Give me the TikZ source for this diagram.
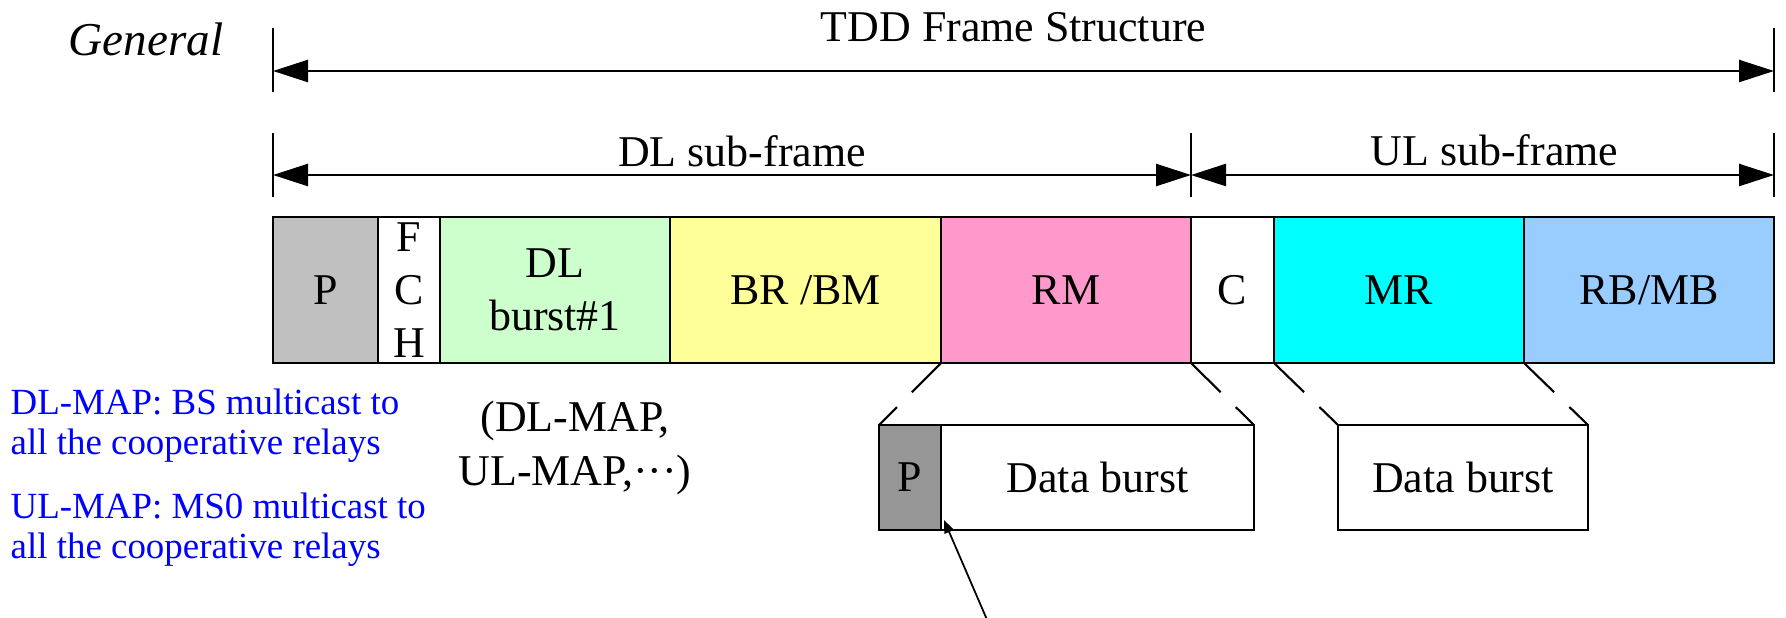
\documentclass[tikz,border=0pt]{standalone}
\usepackage{fontspec}
\setmainfont{Liberation Serif}
\usepackage{xcolor}
\usepackage{tikz}
\usetikzlibrary{arrows.meta,positioning,calc}
\definecolor{prmgray}{HTML}{C0C0C0}
\definecolor{dlgreen}{HTML}{CCFFCC}
\definecolor{bryellow}{HTML}{FFFF99}
\definecolor{rmpink}{HTML}{FF99CC}
\definecolor{mrcyan}{HTML}{00FFFF}
\definecolor{rbblue}{HTML}{99CCFF}
\definecolor{pdark}{HTML}{969696}
\newcommand{\lblfont}{\fontsize{12.5}{15}\selectfont}
\newcommand{\notefont}{\fontsize{10.5}{11.5}\selectfont}

\begin{document}
\begin{tikzpicture}[
  cell/.style={draw, line width=0.8pt, minimum height=1.46cm, inner sep=0pt,
    outer sep=0pt, align=center, font=\lblfont},
  zcell/.style={cell, minimum height=1.05cm},
  dim/.style={{Triangle[length=3.5mm,width=2.2mm]}-{Triangle[length=3.5mm,width=2.2mm]},
    line width=0.7pt},
  tick/.style={line width=0.5pt},
  zoomln/.style={line width=0.6pt},
  lbl/.style={font=\lblfont, inner sep=0pt},
  note/.style={font=\notefont, text=blue, align=left, inner sep=0pt},
]
  \useasboundingbox (0,0) rectangle (17.86,-6.17);

  % dimension lines
  \foreach \x in {2.73,17.74} \draw[tick] (\x,-0.28) -- (\x,-0.92);
  \foreach \x in {2.73,11.91,17.74} \draw[tick] (\x,-1.33) -- (\x,-1.97);
  \coordinate (fl) at (2.73,-0.71);
  \coordinate (fr) at (17.74,-0.71);
  \coordinate (dl) at (2.73,-1.75);
  \coordinate (dm) at (11.91,-1.75);
  \coordinate (ur) at (17.74,-1.75);

  \draw[dim] (fl) -- (fr)
    node[midway, above=0.28cm, xshift=-0.1cm, lbl] {TDD Frame Structure};
  \draw[dim] (dl) -- (dm)
    node[midway, above=0.07cm, xshift=0.1cm, lbl] {DL sub-frame};
  \draw[dim] (dm) -- (ur)
    node[midway, above=0.08cm, xshift=0.12cm, lbl] {UL sub-frame};

  \node[font=\fontsize{13.4}{16}\selectfont\itshape, anchor=base, inner sep=0pt]
    (gen) at (1.46,-0.55) {General};

  % frame cells
  \node[cell, fill=prmgray, minimum width=1.05cm, anchor=north west] (pre)
    at (2.73,-2.17) {P};
  \node[cell, minimum width=0.62cm, right=0pt of pre] (fch) {F\\C\\H};
  \node[cell, fill=dlgreen, minimum width=2.30cm, right=0pt of fch] (dlb)
    {DL\\burst\#1};
  \node[cell, fill=bryellow, minimum width=2.71cm, right=0pt of dlb] (brbm)
    {BR /BM};
  \node[cell, fill=rmpink, minimum width=2.50cm, right=0pt of brbm] (rm) {RM};
  \node[cell, minimum width=0.83cm, right=0pt of rm] (cb) {C};
  \node[cell, fill=mrcyan, minimum width=2.50cm, right=0pt of cb] (mr) {MR};
  \node[cell, fill=rbblue, minimum width=2.50cm, right=0pt of mr] (rbmb) {RB/MB};

  % zoomed bursts
  \node[zcell, fill=pdark, minimum width=0.62cm, anchor=north west] (zp)
    at (8.79,-4.25) {P};
  \node[zcell, minimum width=3.13cm, right=0pt of zp] (zrm) {Data burst};
  \node[zcell, minimum width=2.50cm, anchor=north west] (zmr)
    at (13.38,-4.25) {Data burst};

  % broken zoom lines
  \foreach \a/\b in {rm.south west/zp.north west, rm.south east/zrm.north east,
      mr.south west/zmr.north west, mr.south east/zmr.north east} {
    \draw[zoomln] (\a) -- ($(\a)!0.47!(\b)$);
    \draw[zoomln] ($(\a)!0.71!(\b)$) -- (\b);
  }

  % notes
  \node[note, anchor=north west] (dlmap) at (0.10,-3.88)
    {DL-MAP: BS multicast to\\all the cooperative relays};
  \node[note, anchor=north west] (ulmap) at (0.10,-4.92)
    {UL-MAP: MS0 multicast to\\all the cooperative relays};
  \node[font=\fontsize{12.5}{15.4}\selectfont, align=center, inner sep=0pt,
    anchor=north] (maps) at (5.75,-4.00)
    {(DL-MAP,\\UL-MAP,\textperiodcentered\textperiodcentered\textperiodcentered)};

  % pointer to the preamble
  \coordinate (src) at (9.88,-6.22);
  \draw[-{Triangle[length=1.3mm,width=1mm]}, line width=0.5pt] (src)
    -- ([shift={(0.03,0.1)}]zp.south east);
\end{tikzpicture}
\end{document}
